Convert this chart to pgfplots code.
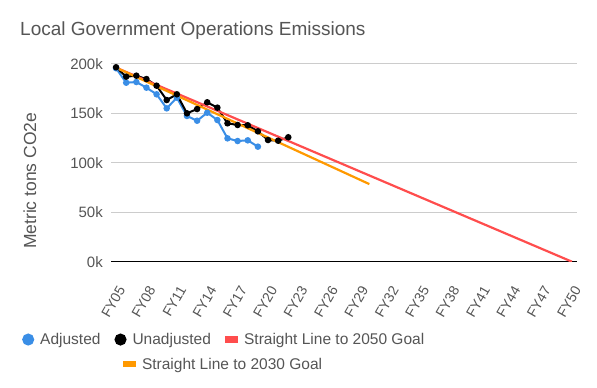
\documentclass[border=0pt]{standalone}
\usepackage{fontspec}
\setmainfont{Liberation Sans}
\usepackage{graphicx}
\usepackage{pgfplots}
\pgfplotsset{compat=1.18}
\definecolor{cblue}{HTML}{3A8EE6}
\definecolor{cred}{HTML}{FF4D4D}
\definecolor{corange}{HTML}{FF9900}
\definecolor{cgrid}{HTML}{CCCCCC}
\definecolor{ctext}{HTML}{555555}
\newcommand{\rl}[1]{\rotatebox{60}{#1}}
\begin{document}
\begin{tikzpicture}
\useasboundingbox (0,0) rectangle (597bp,388bp);
\node[anchor=base west, text=ctext, font=\fontsize{19bp}{22bp}\selectfont, inner sep=0pt] at (20bp,352bp) {Local Government Operations Emissions};
\begin{axis}[
 at={(111bp,126.3bp)}, anchor=south west,
 scale only axis, width=466bp, height=198bp,
 xmin=2004.5, xmax=2050.5, ymin=0, ymax=200000,
 axis x line*=bottom, axis y line*=left,
 x axis line style={black, line width=0.8bp, -},
 y axis line style={draw=none},
 major tick length=0pt,
 xtick={2005,2008,...,2050},
 xticklabels={\rl{FY05},\rl{FY08},\rl{FY11},\rl{FY14},\rl{FY17},\rl{FY20},\rl{FY23},\rl{FY26},\rl{FY29},\rl{FY32},\rl{FY35},\rl{FY38},\rl{FY41},\rl{FY44},\rl{FY47},\rl{FY50}},
 ytick={0,50000,100000,150000,200000},
 yticklabels={0k,50k,100k,150k,200k},
 scaled y ticks=false,
 ymajorgrids, grid style={cgrid, line width=0.8bp},
 tick label style={text=ctext},
 yticklabel style={font=\fontsize{15bp}{18bp}\selectfont, anchor=east, inner sep=0pt, xshift=-8bp},
 xticklabel style={font=\fontsize{14bp}{16bp}\selectfont, inner sep=0pt, anchor=north east, xshift=10bp, yshift=-23bp},
 ylabel={Metric tons CO2e},
 every axis y label/.style={at={(axis description cs:-0.174,0.408)}, rotate=90, anchor=center, text=ctext, font=\fontsize{17.5bp}{20bp}\selectfont},
 legend columns=3,
 legend style={at={(axis description cs:-0.191,-0.36)}, anchor=north west, draw=none, fill=none, inner sep=0pt, row sep=12bp,
   font=\fontsize{15.5bp}{18bp}\selectfont, text=ctext, nodes={inner sep=0pt, anchor=west},
   /tikz/every odd column/.style={column sep=6bp}, /tikz/every even column/.style={column sep=14bp}},
]
\addplot[cblue, line width=2bp, mark=*, mark size=2.2bp, mark options={solid},
  legend image code/.code={\fill[cblue] (5bp,0bp) circle (5bp);}] coordinates {
 (2005,195400) (2006,180800) (2007,181500) (2008,175800) (2009,169100) (2010,154900)
 (2011,165700) (2012,147200) (2013,142400) (2014,150500) (2015,143100) (2016,124600)
 (2017,121900) (2018,122600) (2019,116200)};
\addlegendentry{Adjusted}
\addplot[black, line width=2bp, mark=*, mark size=2.2bp, mark options={solid},
  legend image code/.code={\fill[black] (5bp,0bp) circle (5bp);}] coordinates {
 (2005,196400) (2006,186900) (2007,187900) (2008,184500) (2009,177800) (2010,163300)
 (2011,169100) (2012,149900) (2013,154200) (2014,161000) (2015,155600) (2016,139800)
 (2017,138100) (2018,137800) (2019,131700) (2020,122900) (2021,122200) (2022,125700)};
\addlegendentry{Unadjusted}
\addplot[cred, line width=2.2bp,
  legend image code/.code={\fill[cred] (0bp,-2bp) rectangle (11bp,2bp);}] coordinates {
 (2005,196000) (2050,0)};
\addlegendentry{Straight Line to 2050 Goal}
\addlegendimage{empty legend}
\addlegendentry{}
\addplot[corange, line width=2.2bp,
  legend image code/.code={\fill[corange, overlay] (9bp,-2bp) rectangle (19bp,2bp);}] coordinates {
 (2005,196000) (2030,78400)};
\addlegendentry{\makebox[0pt][l]{\hspace{9bp}Straight Line to 2030 Goal}}
\end{axis}
\end{tikzpicture}
\end{document}
